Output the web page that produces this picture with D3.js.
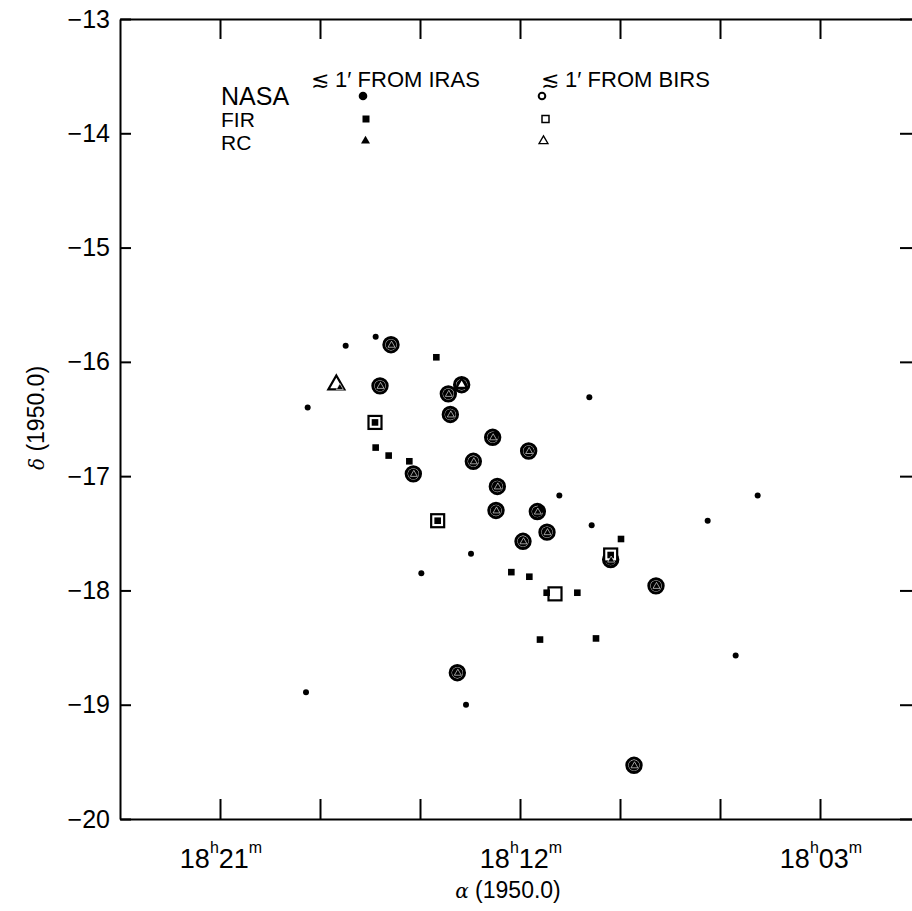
<!DOCTYPE html>
<html>
<head>
<meta charset="utf-8">
<script src="https://cdn.jsdelivr.net/npm/d3@7"></script>
<style>
  html, body { margin: 0; padding: 0; background: #fff; }
  svg { display: block; font-family: "Liberation Sans", Arial, sans-serif; }
  .axis path, .axis line { stroke: #000; stroke-width: 2; }
  .axis text { fill: #000; font-size: 25px; font-family: "Liberation Sans", Arial, sans-serif; }
  .narrow { font-family: "Liberation Sans Narrow", "Liberation Sans", Arial, sans-serif; }
</style>
</head>
<body>
<div id="chart"></div>
<script>
  // RA as minutes past 18h, Dec in degrees (B1950)
  const raTicks = [21, 18, 15, 12, 9, 6, 3];
  const raLabelTicks = [21, 12, 3];
  const raLabelMinutes = ["21", "12", "03"];
  const decTicks = [-13, -14, -15, -16, -17, -18, -19, -20];

  // NASA sources, IRAS position (filled circle)
  const nasaIras = [
    [17.23, -15.86], [16.33, -15.78], [18.37, -16.40], [9.92, -16.31], [10.82, -17.17],
    [9.85, -17.43], [6.37, -17.39], [4.87, -17.17], [13.47, -17.68], [14.96, -17.85],
    [18.42, -18.89], [13.62, -19.00], [5.53, -18.57], [17.42, -16.22],
    [15.87, -15.85], [16.20, -16.21], [14.15, -16.28], [13.75, -16.20], [14.09, -16.46],
    [12.82, -16.66], [11.74, -16.78], [15.20, -16.98], [13.40, -16.87], [12.68, -17.09],
    [12.72, -17.30], [11.48, -17.31], [11.19, -17.49], [11.91, -17.57], [9.28, -17.73],
    [7.92, -17.96], [13.88, -18.72], [8.58, -19.53]
  ];
  // NASA sources, BIRS position (open circle)
  const nasaBirs = [
    [15.87, -15.85], [16.20, -16.21], [14.15, -16.28], [13.75, -16.20], [14.09, -16.46],
    [12.82, -16.66], [11.74, -16.78], [15.20, -16.98], [13.40, -16.87], [12.68, -17.09],
    [12.72, -17.30], [11.48, -17.31], [11.19, -17.49], [11.91, -17.57], [9.28, -17.73],
    [7.92, -17.96], [13.88, -18.72], [8.58, -19.53]
  ];
  // FIR sources
  const firIras = [
    [14.51, -15.96], [16.33, -16.75], [15.94, -16.82], [15.32, -16.87], [8.97, -17.55],
    [12.26, -17.84], [11.72, -17.88], [11.20, -18.02], [10.28, -18.02], [11.40, -18.43],
    [9.72, -18.42], [16.35, -16.53], [14.47, -17.39], [12.75, -16.64], [11.37, -17.29],
    [9.28, -17.69]
  ];
  const firBirs = [
    [16.35, -16.53], [14.47, -17.39], [10.95, -18.03], [9.28, -17.69]
  ];
  // RC sources
  const rcIras = [
    [17.42, -16.22], [15.87, -15.85], [16.20, -16.21], [14.15, -16.28], [14.09, -16.46],
    [12.82, -16.66], [11.74, -16.78], [15.20, -16.98], [13.40, -16.87], [12.68, -17.09],
    [12.72, -17.30], [11.48, -17.31], [11.19, -17.49], [11.91, -17.57], [9.28, -17.73],
    [7.92, -17.96], [13.88, -18.72], [8.58, -19.53]
  ];
  const rcBirs = [
    [17.51, -16.20], [13.75, -16.20]
  ];

  const width = 912, height = 911;

  const x = d3.scaleLinear().domain([24, 0]).range([120, 920]);
  const y = d3.scaleLinear().domain([-13, -20]).range([19, 819]);

  const svg = d3.select("#chart").append("svg")
    .attr("width", width)
    .attr("height", height);

  // frame + ticks (all inward)
  svg.append("g").attr("class", "axis")
    .attr("transform", "translate(0," + y(-20) + ")")
    .call(d3.axisBottom(x).tickValues(raTicks).tickSize(-20).tickSizeOuter(0).tickFormat(""));
  svg.append("g").attr("class", "axis")
    .attr("transform", "translate(0," + y(-13) + ")")
    .call(d3.axisTop(x).tickValues(raTicks).tickSize(-20).tickSizeOuter(0).tickFormat(""));
  svg.append("g").attr("class", "axis")
    .attr("transform", "translate(" + x(24) + ",0)")
    .call(d3.axisLeft(y).tickValues(decTicks).tickSize(-11).tickSizeOuter(0).tickPadding(10)
      .tickFormat(d => "\u2212" + Math.abs(d)));
  svg.append("g").attr("class", "axis")
    .attr("transform", "translate(" + x(0) + ",0)")
    .call(d3.axisRight(y).tickValues(decTicks).tickSize(-20).tickSizeOuter(0).tickFormat(""));

  // RA labels like 18h21m
  raLabelTicks.forEach((ra, i) => {
    const t = svg.append("text").attr("class", "narrow")
      .attr("x", x(ra) + 1)
      .attr("y", 868)
      .attr("text-anchor", "middle")
      .style("font-size", "27px");
    t.append("tspan").text("18");
    t.append("tspan").attr("dy", -15).style("font-size", "16px").text("h");
    t.append("tspan").attr("dy", 15).text(raLabelMinutes[i]);
    t.append("tspan").attr("dy", -15).style("font-size", "16px").text("m");
  });

  // axis titles
  const xt = svg.append("text").attr("class", "narrow")
    .attr("x", 508).attr("y", 898)
    .attr("text-anchor", "middle")
    .style("font-size", "23px");
  xt.append("tspan").style("font-family", "'DejaVu Serif', serif").style("font-style", "italic")
    .style("font-size", "20px").text("\u03b1");
  xt.append("tspan").text(" (1950.0)");

  const yt = svg.append("text").attr("class", "narrow")
    .attr("transform", "translate(44,418) rotate(-90)")
    .attr("text-anchor", "middle")
    .style("font-size", "23px");
  yt.append("tspan").style("font-family", "'DejaVu Serif', serif").style("font-style", "italic")
    .style("font-size", "20px").text("\u03b4");
  yt.append("tspan").text(" (1950.0)");

  // triangle path centred on (cx, cy) with side s
  function tri(cx, cy, s) {
    const h = s * Math.sqrt(3) / 2;
    return "M" + cx + "," + (cy - h * 2 / 3) +
      "L" + (cx + s / 2) + "," + (cy + h / 3) +
      "L" + (cx - s / 2) + "," + (cy + h / 3) + "Z";
  }

  const marks = svg.append("g");

  // open circles (BIRS)
  marks.selectAll(".nb").data(nasaBirs).enter().append("circle")
    .attr("cx", d => x(d[0])).attr("cy", d => y(d[1]))
    .attr("r", 7.2).attr("fill", "#fff").attr("stroke", "#000").attr("stroke-width", 3);

  // filled circles (IRAS); bigger when inside a BIRS ring
  const ringKeys = new Set(nasaBirs.map(d => d.join()));
  marks.selectAll(".ni").data(nasaIras).enter().append("circle")
    .attr("cx", d => x(d[0])).attr("cy", d => y(d[1]))
    .attr("r", d => ringKeys.has(d.join()) ? 5.4 : 3).attr("fill", "#000");

  // open squares (BIRS)
  marks.selectAll(".fb").data(firBirs).enter().append("rect")
    .attr("x", d => x(d[0]) - 6.5).attr("y", d => y(d[1]) - 6.5)
    .attr("width", 13).attr("height", 13)
    .attr("fill", "#fff").attr("stroke", "#000").attr("stroke-width", 2.2);

  // filled squares (IRAS)
  marks.selectAll(".fi").data(firIras).enter().append("rect")
    .attr("x", d => x(d[0]) - 3.3).attr("y", d => y(d[1]) - 3.3)
    .attr("width", 6.6).attr("height", 6.6).attr("fill", "#000");

  // open triangles (BIRS)
  marks.selectAll(".rb").data(rcBirs).enter().append("path")
    .attr("d", (d, i) => tri(x(d[0]), y(d[1]), i === 0 ? 16 : 11))
    .attr("fill", "#fff").attr("stroke", "#000").attr("stroke-width", 2.2);

  // filled triangles (IRAS)
  marks.selectAll(".ri").data(rcIras).enter().append("path")
    .attr("d", d => tri(x(d[0]) + 0.5, y(d[1]) + 0.5, 7))
    .attr("fill", "#000").attr("stroke", "#fff").attr("stroke-width", 0.6);

  // legend
  const legend = svg.append("g");
  legend.append("text").attr("x", 311).attr("y", 87).style("font-size", "22px").text("\u2272 1\u2032 FROM IRAS");
  legend.append("text").attr("x", 541).attr("y", 87).style("font-size", "22px").text("\u2272 1\u2032 FROM BIRS");
  legend.append("text").attr("x", 221).attr("y", 105).style("font-size", "25px").text("NASA");
  legend.append("text").attr("x", 221).attr("y", 127).style("font-size", "21px").text("FIR");
  legend.append("text").attr("x", 221).attr("y", 150).style("font-size", "21px").text("RC");

  legend.append("circle").attr("cx", 363).attr("cy", 96).attr("r", 4.3).attr("fill", "#000");
  legend.append("rect").attr("x", 362.5).attr("y", 115.5).attr("width", 7).attr("height", 7).attr("fill", "#000");
  legend.append("path").attr("d", tri(365.5, 141, 9)).attr("fill", "#000");

  legend.append("circle").attr("cx", 542).attr("cy", 96).attr("r", 3.3)
    .attr("fill", "none").attr("stroke", "#000").attr("stroke-width", 2);
  legend.append("rect").attr("x", 542).attr("y", 115.5).attr("width", 7).attr("height", 7)
    .attr("fill", "none").attr("stroke", "#000").attr("stroke-width", 1.5);
  legend.append("path").attr("d", tri(543.5, 141, 9))
    .attr("fill", "none").attr("stroke", "#000").attr("stroke-width", 1.3);
</script>
</body>
</html>
